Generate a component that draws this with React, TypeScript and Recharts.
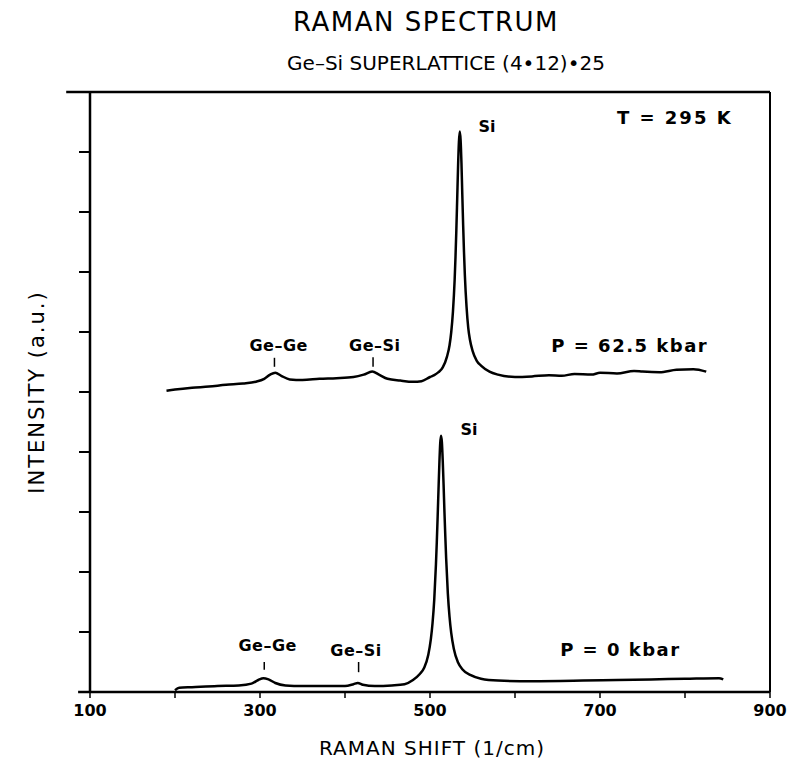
import { LineChart, Line, XAxis, YAxis, ReferenceLine, ReferenceDot } from "recharts";

// P = 62.5 kbar spectrum (Raman shift in 1/cm, intensity in a.u.)
const highShift = [
  190, 200, 220, 240, 260, 280, 295, 305, 312, 318, 325, 335, 350, 370, 390, 410, 422, 432, 440, 450,
  465, 480, 490, 500, 505, 510, 515, 520, 523, 525, 527, 529, 530, 531, 532, 533, 534, 535, 536, 537,
  538, 539, 540, 541, 543, 545, 547, 550, 555, 560, 570, 580, 600, 620, 640, 655, 670, 690, 700, 720,
  740, 750, 770, 790, 810, 825,
];
const highIntensity = [
  5.02, 5.04, 5.07, 5.09, 5.12, 5.14, 5.17, 5.22, 5.29, 5.32, 5.27, 5.21, 5.2, 5.22, 5.23, 5.25, 5.29, 5.34, 5.29, 5.22,
  5.19, 5.17, 5.18, 5.25, 5.28, 5.33, 5.41, 5.59, 5.78, 6.0, 6.34, 6.87, 7.25, 7.7, 8.22, 8.75, 9.16, 9.34, 9.2, 8.82,
  8.29, 7.78, 7.33, 6.95, 6.42, 6.07, 5.87, 5.69, 5.52, 5.44, 5.34, 5.29, 5.25, 5.26, 5.28, 5.27, 5.3, 5.29, 5.32, 5.31,
  5.35, 5.34, 5.33, 5.37, 5.38, 5.34,
];

// P = 0 kbar spectrum
const zeroShift = [
  200, 205, 220, 250, 275, 290, 298, 304, 310, 318, 330, 350, 380, 400, 410, 415, 421, 435, 455, 470,
  480, 488, 493, 498, 501, 503, 505, 507, 508, 509, 510, 511, 512, 513, 514, 515, 516, 517, 518, 519,
  521, 523, 525, 528, 533, 538, 548, 560, 580, 620, 680, 720, 760, 800, 840, 845,
];
const zeroIntensity = [
  0.03, 0.07, 0.08, 0.1, 0.11, 0.14, 0.2, 0.23, 0.21, 0.15, 0.11, 0.1, 0.1, 0.1, 0.13, 0.15, 0.12, 0.1, 0.11, 0.13,
  0.2, 0.3, 0.4, 0.62, 0.88, 1.15, 1.54, 2.13, 2.5, 2.92, 3.37, 3.8, 4.14, 4.27, 4.16, 3.85, 3.45, 3.0, 2.6, 2.23,
  1.64, 1.25, 0.98, 0.72, 0.49, 0.38, 0.28, 0.22, 0.19, 0.18, 0.19, 0.2, 0.21, 0.22, 0.23, 0.21,
];

const xTicks = [100, 200, 300, 400, 500, 600, 700, 800, 900];
const xLabelled = [100, 300, 500, 700, 900];
const yTicks = [1, 2, 3, 4, 5, 6, 7, 8, 9];

// text annotations placed in data coordinates
const noteText = ["Si", "Ge\u2013Ge", "Ge\u2013Si", "P = 62.5 kbar", "T = 295 K", "Si", "Ge\u2013Ge", "Ge\u2013Si", "P = 0 kbar"];
const noteX = [567, 322, 435, 735, 788, 546, 309, 413, 724];
const noteY = [9.42, 5.78, 5.78, 5.78, 9.57, 4.37, 0.78, 0.7, 0.7];
const noteSize = [16, 16, 16, 18, 18, 16, 16, 16, 18];
const noteSpacing = [0, 0.5, 0.5, 1.5, 2, 0, 0.5, 0.5, 1.5];

// little marker strokes under the Ge-Ge / Ge-Si labels
const markX = [317, 433, 305, 416];
const markY0 = [5.42, 5.42, 0.37, 0.33];
const markY1 = [5.57, 5.58, 0.5, 0.5];

const highData = highShift.map((x, i) => ({ x, y: highIntensity[i] }));
const zeroData = zeroShift.map((x, i) => ({ x, y: zeroIntensity[i] }));

const FONT = "'DejaVu Sans', sans-serif";

export default function App() {
  return (
    <div style={{ position: "absolute", left: 0, top: 0, width: 791, height: 761, background: "#fff", fontFamily: FONT }}>
      <div
        style={{ position: "absolute", left: 226, width: 400, top: 9, textAlign: "center", fontSize: 26, lineHeight: "26px", letterSpacing: 1.5 }}
      >
        RAMAN SPECTRUM
      </div>
      <div style={{ position: "absolute", left: 246, width: 400, top: 53, textAlign: "center", fontSize: 20, lineHeight: "20px" }}>
        Ge&ndash;Si SUPERLATTICE (4&bull;12)&bull;25
      </div>
      <div
        style={{
          position: "absolute",
          left: 37 - 160,
          top: 392 - 12,
          width: 320,
          height: 24,
          lineHeight: "24px",
          textAlign: "center",
          fontSize: 21,
          letterSpacing: 2,
          transform: "rotate(-90deg)",
        }}
      >
        INTENSITY (a.u.)
      </div>
      <div
        style={{ position: "absolute", left: 232, width: 400, top: 737, textAlign: "center", fontSize: 20, lineHeight: "22px", letterSpacing: 1 }}
      >
        RAMAN SHIFT (1/cm)
      </div>

      <LineChart width={791} height={761} margin={{ top: 92, right: 21, left: 30, bottom: 39 }}>
        <XAxis
          dataKey="x"
          type="number"
          domain={[100, 900]}
          ticks={xTicks}
          tickFormatter={(v: number) => (xLabelled.includes(v) ? String(v) : "")}
          tickSize={6}
          tickMargin={7}
          height={30}
          axisLine={{ stroke: "#000", strokeWidth: 2.5 }}
          tickLine={{ stroke: "#000", strokeWidth: 1.5 }}
          tick={{ fill: "#000", fontSize: 16, fontWeight: 700, fontFamily: FONT }}
          allowDataOverflow
        />
        <YAxis
          type="number"
          domain={[0, 10]}
          ticks={yTicks}
          tickFormatter={() => ""}
          tickSize={11}
          width={60}
          axisLine={{ stroke: "#000", strokeWidth: 2.5 }}
          tickLine={{ stroke: "#000", strokeWidth: 2 }}
          allowDataOverflow
        />
        <ReferenceLine y={10} stroke="#000" strokeWidth={2.5} />
        <ReferenceLine x={900} stroke="#000" strokeWidth={2} />
        {/* frame lines overshoot the left axis a little, as on the original plot */}
        <ReferenceLine
          segment={[
            { x: 72, y: 10 },
            { x: 100, y: 10 },
          ]}
          stroke="#000"
          strokeWidth={2.5}
          ifOverflow="visible"
        />
        <ReferenceLine
          segment={[
            { x: 86, y: 0 },
            { x: 100, y: 0 },
          ]}
          stroke="#000"
          strokeWidth={2.5}
          ifOverflow="visible"
        />
        <Line data={highData} dataKey="y" type="monotone" stroke="#000" strokeWidth={2.5} dot={false} isAnimationActive={false} />
        <Line data={zeroData} dataKey="y" type="monotone" stroke="#000" strokeWidth={2.5} dot={false} isAnimationActive={false} />
        {markX.map((x, i) => (
          <ReferenceLine
            key={`m${i}`}
            segment={[
              { x, y: markY0[i] },
              { x, y: markY1[i] },
            ]}
            stroke="#000"
            strokeWidth={1.5}
          />
        ))}
        {noteText.map((t, i) => (
          <ReferenceDot
            key={`n${i}`}
            x={noteX[i]}
            y={noteY[i]}
            r={0}
            stroke="none"
            fill="none"
            label={{
              value: t,
              position: "center",
              fill: "#000",
              fontSize: noteSize[i],
              fontWeight: 700,
              fontFamily: FONT,
              letterSpacing: noteSpacing[i],
            }}
          />
        ))}
      </LineChart>
    </div>
  );
}
